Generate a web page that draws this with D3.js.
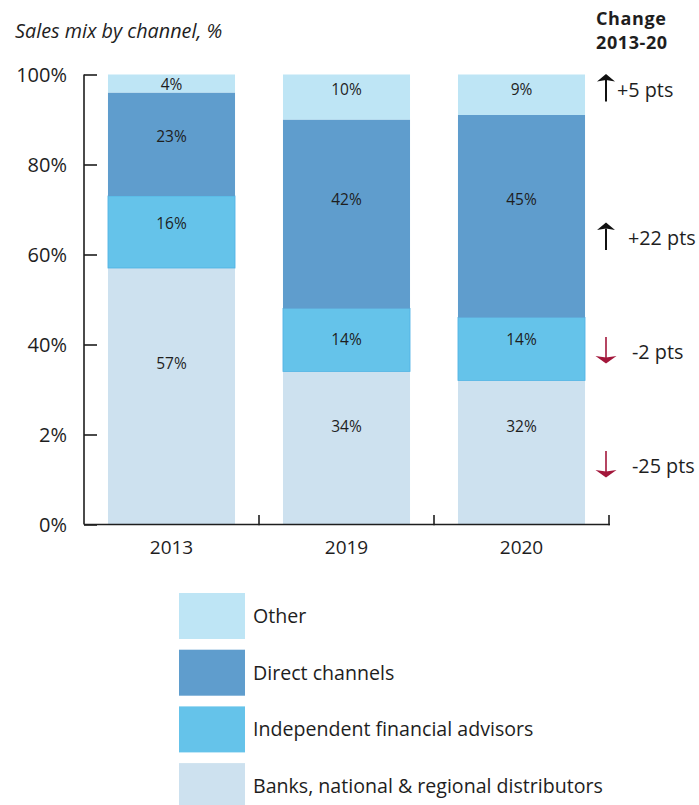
<!DOCTYPE html>
<html>
<head>
<meta charset="utf-8">
<script src="https://cdn.jsdelivr.net/npm/d3@7"></script>
<style>
  html, body { margin: 0; padding: 0; background: #fff; }
  svg { display: block; }
  text { font-family: "Open Sans", "Noto Sans", sans-serif; fill: #1e1e1e; }
</style>
</head>
<body>
<svg id="chart" width="699" height="805"></svg>
<script>
// Sales mix by channel, share of total (%)
const years = ["2013", "2019", "2020"];
const channels = ["Banks, national & regional distributors", "Independent financial advisors", "Direct channels", "Other"];
const banks  = [57, 34, 32];
const ifa    = [16, 14, 14];
const direct = [23, 42, 45];
const other  = [4, 10, 9];
const yTickValues = [0, 20, 40, 60, 80, 100];
const yTickLabels = ["0%", "2%", "40%", "60%", "80%", "100%"];
const changeLabels = ["-25 pts", "-2 pts", "+22 pts", "+5 pts"];

const colors = ["#cde1ef", "#65c3ea", "#5f9dcd", "#bee5f5"];

// where each in-bar label sits, on the 0-100 value axis (per year, bottom segment first)
const labelAnchor = [
  [35.9, 67, 86.3, 97.9],
  [21.9, 41.2, 72.3, 96.6],
  [21.9, 41.2, 72.3, 96.6]
];

const svg = d3.select("#chart");

// table of rows for stacking
const rows = years.map((y, i) => ({
  year: y, b: banks[i], f: ifa[i], d: direct[i], o: other[i]
}));
const keys = ["b", "f", "d", "o"];
const stack = d3.stack().keys(keys)(rows);

const x = d3.scaleBand().domain(years).range([84, 609]).paddingInner(0.274).paddingOuter(0.137);
const y = d3.scaleLinear().domain([0, 100]).range([524.5, 74.5]);

// bars
const layer = svg.append("g").selectAll("g").data(stack).join("g")
  .attr("fill", (d, i) => colors[i]);
layer.selectAll("rect").data(d => d.map(v => ({ v, key: d.key }))).join("rect")
  .attr("x", d => x(d.v.data.year))
  .attr("width", x.bandwidth())
  .attr("y", d => y(d.v[1]))
  .attr("height", d => y(d.v[0]) - y(d.v[1]))
  .attr("stroke", d => d.key === "f" ? "#4fb2e4" : "none")
  .attr("stroke-width", 0.8);

// segment value labels
const labelG = svg.append("g").attr("font-size", 15.5).attr("text-anchor", "middle");
stack.forEach((s, si) => {
  s.forEach((v, yi) => {
    labelG.append("text")
      .attr("x", x(v.data.year) + x.bandwidth() / 2)
      .attr("y", y(labelAnchor[yi][si]) + 5.6)
      .text((v[1] - v[0]) + "%");
  });
});

// y axis, ticks pointing into the plot
const yAxis = d3.axisRight(y).tickValues(yTickValues).tickSize(13).tickFormat(() => "");
const yg = svg.append("g").attr("transform", "translate(84,0)").call(yAxis);
yg.select(".domain").attr("stroke", "#1e1e1e").attr("stroke-width", 1.6)
  .attr("d", "M0,74.5V524.5");
yg.selectAll(".tick line").attr("stroke", "#1e1e1e").attr("stroke-width", 1.6);
svg.append("g").attr("font-size", 20).attr("text-anchor", "end")
  .selectAll("text").data(yTickValues).join("text")
  .attr("x", 67)
  .attr("y", d => y(d) + 7.5)
  .text((d, i) => yTickLabels[i]);

// x axis with dividers between categories
const xg = svg.append("g");
xg.append("line").attr("x1", 84).attr("x2", 610).attr("y1", 524.5).attr("y2", 524.5)
  .attr("stroke", "#1e1e1e").attr("stroke-width", 1.6);
const step = x.step();
[1, 2, 3].forEach(k => {
  const px = 84 + step * k;
  xg.append("line").attr("x1", px).attr("x2", px).attr("y1", 515).attr("y2", 525.3)
    .attr("stroke", "#1e1e1e").attr("stroke-width", 1.6);
});
svg.append("g").attr("font-size", 19).attr("text-anchor", "middle")
  .selectAll("text").data(years).join("text")
  .attr("x", d => x(d) + x.bandwidth() / 2)
  .attr("y", 554)
  .text(d => d);

// title
svg.append("text").attr("x", 15).attr("y", 38).attr("font-size", 19.8)
  .attr("font-style", "italic").text("Sales mix by channel, %");

// change header, two separate lines
svg.append("text").attr("x", 596).attr("y", 25).attr("font-size", 18)
  .attr("font-weight", 700).attr("letter-spacing", 0.6).text("Change");
svg.append("text").attr("x", 596).attr("y", 48.5).attr("font-size", 18)
  .attr("font-weight", 700).attr("letter-spacing", 0.6).text("2013-20");

// change arrows, one per channel
const arrowCenters = [464, 350, 236.5, 88];
const labelX = [632, 632, 628, 617];
const ax = 606;
changeLabels.forEach((lab, i) => {
  const cy = arrowCenters[i];
  const g = svg.append("g");
  const up = lab.startsWith("+");
  const col = up ? "#111" : "#a3173b";
  if (up) {
    g.append("line").attr("x1", ax).attr("x2", ax).attr("y1", cy + 13.5).attr("y2", cy - 8)
      .attr("stroke", col).attr("stroke-width", 2);
    g.append("path")
      .attr("d", `M${ax},${cy - 14} L${ax + 9},${cy - 6.5} L${ax},${cy - 8} L${ax - 9},${cy - 6.5} Z`)
      .attr("fill", col);
  } else {
    g.append("line").attr("x1", ax).attr("x2", ax).attr("y1", cy - 13).attr("y2", cy + 8)
      .attr("stroke", col).attr("stroke-width", 1.6);
    g.append("path")
      .attr("d", `M${ax},${cy + 13.5} L${ax + 10.5},${cy + 6} L${ax},${cy + 7.5} L${ax - 10.5},${cy + 6} Z`)
      .attr("fill", col);
  }
  svg.append("text").attr("x", labelX[i]).attr("y", cy + 8.5).attr("font-size", 19.8)
    .text(lab);
});

// legend, top entry first
const legendOrder = [3, 2, 1, 0];
const lg = svg.append("g");
legendOrder.forEach((ci, k) => {
  const top = 593 + k * 56.7;
  lg.append("rect").attr("x", 179).attr("y", top).attr("width", 66).attr("height", 46)
    .attr("fill", colors[ci]);
  lg.append("text").attr("x", 253).attr("y", top + 30).attr("font-size", 19.6)
    .text(channels[ci]);
});
</script>
</body>
</html>
